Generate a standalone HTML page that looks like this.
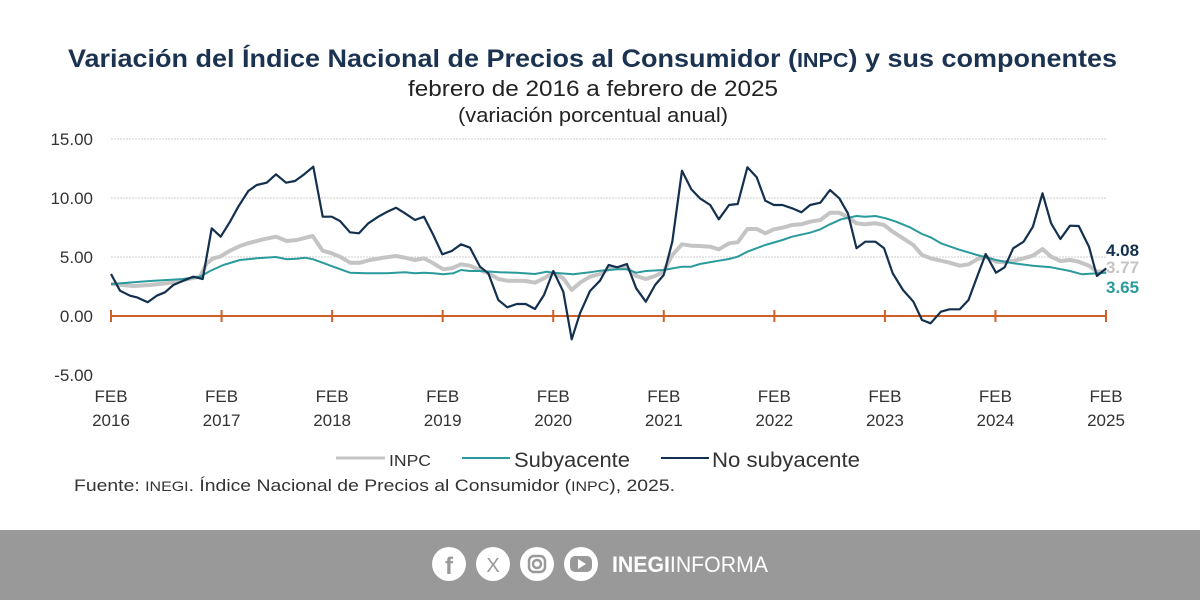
<!DOCTYPE html>
<html><head><meta charset="utf-8"><style>
html,body{margin:0;padding:0;background:#fff;}
svg{display:block;font-family:"Liberation Sans",sans-serif;}
</style></head><body>
<svg id="s" width="1200" height="600" viewBox="0 0 1200 600" xmlns="http://www.w3.org/2000/svg">
<rect width="1200" height="600" fill="#fff"/>
<text x="68" y="67" font-size="25" font-weight="bold" fill="#1b3350" textLength="1049" lengthAdjust="spacingAndGlyphs">Variación del Índice Nacional de Precios al Consumidor (<tspan font-size="20">INPC</tspan>) y sus componentes</text>
<text x="408" y="96" font-size="22" fill="#222" textLength="370" lengthAdjust="spacingAndGlyphs">febrero de 2016 a febrero de 2025</text>
<text x="458" y="122" font-size="20" fill="#222" textLength="270" lengthAdjust="spacingAndGlyphs">(variación porcentual anual)</text>
<g stroke="#cfcfcf" stroke-width="1" stroke-dasharray="2,1">
<line x1="111" x2="1106" y1="139" y2="139"/><line x1="111" x2="1106" y1="198" y2="198"/><line x1="111" x2="1106" y1="257" y2="257"/>
</g>
<g font-size="17" fill="#333" text-anchor="end">
<text x="93" y="145">15.00</text><text x="93" y="204">10.00</text><text x="93" y="263">5.00</text><text x="93" y="322">0.00</text><text x="93" y="381">-5.00</text>
</g>
<g id="ax" stroke="#d0602a" stroke-width="2"><line x1="111" x2="1106" y1="316" y2="316"/></g>
<g id="xl" font-size="17" fill="#333" text-anchor="middle"></g>
<polyline id="g" fill="none" stroke="#c4c4c4" stroke-width="4" stroke-linejoin="round"/>
<polyline id="t" fill="none" stroke="#2a9a9c" stroke-width="2" stroke-linejoin="round"/>
<polyline id="n" fill="none" stroke="#13304f" stroke-width="2.2" stroke-linejoin="round"/>
<text x="1106" y="256" font-size="17" font-weight="bold" fill="#13304f">4.08</text>
<text x="1106" y="273" font-size="17" font-weight="bold" fill="#c4c4c4">3.77</text>
<text x="1106" y="293" font-size="17" font-weight="bold" fill="#2a9a9c">3.65</text>
<line x1="336" x2="385" y1="458" y2="458" stroke="#c4c4c4" stroke-width="3"/>
<text x="389" y="466" font-size="16" fill="#333" textLength="42" lengthAdjust="spacingAndGlyphs">INPC</text>
<line x1="462" x2="510" y1="458" y2="458" stroke="#2a9a9c" stroke-width="2"/>
<text x="514" y="467" font-size="21" fill="#333" textLength="116" lengthAdjust="spacingAndGlyphs">Subyacente</text>
<line x1="661" x2="709" y1="458" y2="458" stroke="#13304f" stroke-width="2"/>
<text x="712" y="467" font-size="21" fill="#333" textLength="148" lengthAdjust="spacingAndGlyphs">No subyacente</text>
<text x="74" y="491" font-size="17" fill="#333" textLength="601" lengthAdjust="spacingAndGlyphs">Fuente: <tspan font-size="14">INEGI</tspan>. Índice Nacional de Precios al Consumidor (<tspan font-size="14">INPC</tspan>), 2025.</text>
<rect x="0" y="530" width="1200" height="70" fill="#999"/>
<g fill="#fff"><circle cx="449" cy="564" r="17"/><circle cx="493" cy="564" r="17"/><circle cx="537" cy="564" r="17"/><circle cx="581" cy="564" r="17"/></g>
<text x="449" y="574" text-anchor="middle" font-size="24" font-weight="bold" fill="#999">f</text>
<text x="493" y="572" text-anchor="middle" font-size="20" fill="#999">X</text>
<rect x="529" y="556" width="16" height="16" rx="5" fill="none" stroke="#999" stroke-width="2.5"/><circle cx="537" cy="564" r="4" fill="none" stroke="#999" stroke-width="2.5"/>
<rect x="570" y="556" width="22" height="16" rx="5" fill="#999"/><polygon points="578,559 578,569 586,564" fill="#fff"/>
<text x="612" y="572" font-size="22" fill="#fff" textLength="156" lengthAdjust="spacingAndGlyphs"><tspan font-weight="bold">INEGI</tspan>INFORMA</text>
</svg>
<script>
function P(a,ox,sx){var r=[];for(var i=0;i<a.length;i+=2)r.push((ox+a[i]*sx).toFixed(1)+","+(130+a[i+1]/3).toFixed(1));return r;}
function S(id,a1,a2){var p=P(a1,100,1/3).concat(P(a2,600,1/2.904));document.getElementById(id).setAttribute("points",p.join(" "));}
S("n",[33,432,60,482,90,497,110,502,143,517,170,497,195,487,220,465,250,452,280,440,308,447,335,295,362,320,390,275,415,230,445,183,470,165,500,158,528,133,558,158,585,153,610,135,640,110,668,260,695,260,720,273,750,307,777,310,805,280,835,260,862,245,888,233,915,250,945,270,972,260,1000,315,1027,373,1055,363,1083,343,1110,353,1140,410,1165,430,1195,510,1222,532,1250,522,1277,522,1305,537,1332,495,1360,423,1390,485,1415,628,1440,550,1470,483,1500,452],
[25,405,50,412,78,402,105,475,133,515,160,465,185,435,210,335,238,122,265,178,290,205,320,225,345,268,375,225,400,222,428,112,455,142,480,212,505,225,530,225,558,235,585,247,610,225,640,218,668,180,695,205,720,250,745,355,770,335,800,335,825,355,850,430,880,480,910,515,935,570,960,580,990,545,1015,538,1045,538,1070,510,1095,440,1120,372,1150,428,1175,412,1200,355,1230,335,1257,290,1285,190,1310,280,1337,327,1365,287,1390,288,1420,350,1443,438,1470,415]);
S("g",[33,462,100,468,150,465,200,460,250,450,300,440,320,400,340,385,360,380,390,362,420,348,450,338,490,328,528,320,560,333,590,330,610,325,638,318,668,362,695,370,720,380,750,398,780,398,810,390,850,383,888,378,915,383,945,390,972,385,1000,400,1030,418,1055,415,1083,403,1110,407,1140,420,1165,430,1195,447,1222,452,1250,452,1277,453,1305,458,1332,445,1360,428,1390,445,1415,480,1440,458,1470,440,1500,432],
[25,417,50,415,78,413,105,438,133,447,160,438,185,425,210,375,238,343,265,347,290,348,320,350,345,358,375,340,400,337,428,297,455,297,480,310,505,298,530,293,558,285,585,283,610,275,640,270,668,248,695,248,720,262,745,280,770,283,800,280,825,285,850,305,880,325,910,345,935,375,960,385,990,392,1015,398,1045,407,1070,403,1095,388,1120,380,1150,395,1175,397,1200,393,1230,385,1257,377,1285,357,1310,380,1337,393,1365,390,1390,395,1420,407,1443,425,1470,424]);
S("t",[33,462,100,457,150,453,200,450,250,447,300,440,330,423,370,405,420,390,470,385,528,381,560,388,590,386,615,383,640,388,700,410,750,428,800,430,860,430,915,427,945,430,972,428,1000,430,1030,433,1060,430,1083,420,1110,423,1140,423,1200,427,1250,428,1305,432,1340,425,1360,428,1420,433,1470,427,1500,422],
[50,418,78,418,105,428,133,423,185,420,238,410,265,410,290,402,345,392,375,387,400,380,428,365,480,345,530,330,558,320,610,308,640,298,668,283,700,268,745,258,770,260,800,258,830,265,860,275,900,292,935,312,960,322,990,340,1040,358,1095,375,1150,390,1200,400,1257,407,1310,412,1365,423,1400,433,1470,428]);
var ax=document.getElementById("ax"),xl=document.getElementById("xl"),ns="http://www.w3.org/2000/svg";
for(var i=0;i<10;i++){var x=111+i*995/9;var l=document.createElementNS(ns,"line");l.setAttribute("x1",x);l.setAttribute("x2",x);l.setAttribute("y1",310);l.setAttribute("y2",322);ax.appendChild(l);
var t=document.createElementNS(ns,"text");t.setAttribute("x",x);t.setAttribute("y",402);t.textContent="FEB";xl.appendChild(t);
t=document.createElementNS(ns,"text");t.setAttribute("x",x);t.setAttribute("y",426);t.textContent=String(2016+i);xl.appendChild(t);}
</script>
</body></html>
